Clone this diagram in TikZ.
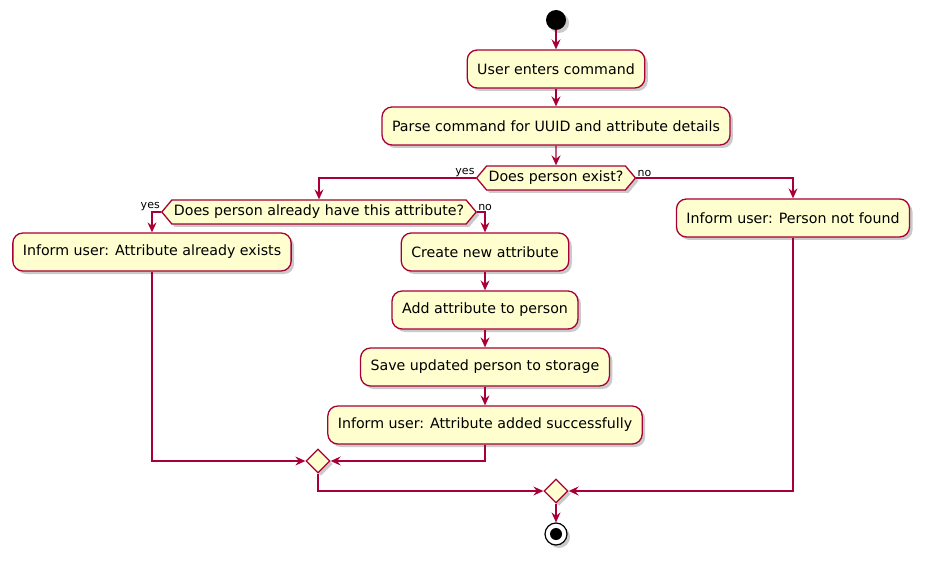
\documentclass[tikz,border=0pt]{standalone}
\usepackage{fontspec}
\setmainfont{DejaVu Sans}
\usetikzlibrary{arrows.meta,shapes.geometric,shapes.symbols,shadows}
\definecolor{pfill}{HTML}{FEFECE}
\definecolor{pline}{HTML}{A80036}
\tikzset{
  shad/.style={drop shadow={opacity=0.35,shadow xshift=3pt,shadow yshift=-3pt,fill=black!60}},
  act/.style={draw=pline,fill=pfill,line width=1.3pt,rounded corners=10pt,minimum height=38pt,inner xsep=10pt,inner ysep=0pt,font=\fontsize{14.2}{16}\selectfont,shad},
  dec/.style={signal,signal to=east and west,signal pointer angle=100,draw=pline,fill=pfill,line width=1.3pt,minimum height=24pt,inner ysep=0pt,inner xsep=2pt,font=\fontsize{14.2}{16}\selectfont,shad},
  merge/.style={diamond,draw=pline,fill=pfill,line width=1.3pt,minimum width=24pt,minimum height=24pt,inner sep=0pt,shad},
  arr/.style={draw=pline,line width=1.3pt,-{Stealth[length=10pt,width=9pt,inset=3.5pt]}},
  lab/.style={font=\fontsize{11}{12}\selectfont,inner sep=1pt},
}
\begin{document}
\begin{tikzpicture}[x=1pt,y=-1pt]
\useasboundingbox (0,0) rectangle (928,561);
\node[circle,fill=black,minimum size=20pt,inner sep=0pt,shad] (start) at (556,20) {};
\node[act] (b1) at (556,69) {User enters command};
\node[act] (b2) at (556,126) {Parse command for UUID and attribute details};
\node[dec] (d1) at (556,178) {Does person exist?};
\node[dec] (d2) at (319,212) {Does person already have this attribute?};
\node[act] (b3) at (152,252) {Inform user: Attribute already exists};
\node[act] (b4) at (485,252) {Create new attribute};
\node[act] (b5) at (485,310) {Add attribute to person};
\node[act] (b6) at (485,367) {Save updated person to storage};
\node[act] (b7) at (485,425) {Inform user: Attribute added successfully};
\node[act] (b8) at (793,218) {Inform user: Person not found};
\node[merge] (m1) at (318,461) {};
\node[merge] (m2) at (556,491) {};
\node[circle,draw=black,line width=1.2pt,fill=white,minimum size=22pt,inner sep=0pt,shad] (end) at (556,534) {};
\node[circle,fill=black,minimum size=12pt,inner sep=0pt] (endin) at (end.center) {};
\draw[arr] (start) -- (b1);
\draw[arr] (b1) -- (b2);
\draw[arr] (b2) -- (d1);
\draw[arr] (d1.west) -| (d2.north);
\node[lab,anchor=south east] (y1) at (d1.west) {yes};
\draw[arr] (d1.east) -| (b8.north);
\node[lab,anchor=south west] (n1) at (d1.east) {no};
\draw[arr] (d2.west) -| (b3.north);
\node[lab,anchor=south east] (y2) at (d2.west) {yes};
\draw[arr] (d2.east) -| (b4.north);
\node[lab,anchor=south west] (n2) at (d2.east) {no};
\draw[arr] (b4) -- (b5);
\draw[arr] (b5) -- (b6);
\draw[arr] (b6) -- (b7);
\draw[arr] (b3.south) |- (m1.west);
\draw[arr] (b7.south) |- (m1.east);
\draw[arr] (m1.south) |- (m2.west);
\draw[arr] (b8.south) |- (m2.east);
\draw[arr] (m2) -- (end);
\end{tikzpicture}
\end{document}
